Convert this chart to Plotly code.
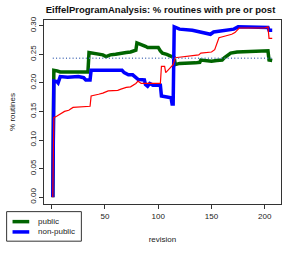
import plotly.graph_objects as go

title = "EiffelProgramAnalysis: % routines with pre or post"

public_rev = [1, 2, 5, 8, 20, 30, 34, 35, 40, 45, 48, 51, 55, 60, 66, 70, 74, 78, 79, 80, 85, 88, 90, 100, 102, 104, 108, 111, 113, 115, 116, 120, 135, 139, 140, 145, 150, 155, 160, 162, 165, 168, 174, 185, 200, 203, 204, 207]
public_val = [0.0, 0.222, 0.221, 0.219, 0.219, 0.218, 0.219, 0.253, 0.251, 0.250, 0.249, 0.246, 0.249, 0.250, 0.251, 0.253, 0.254, 0.256, 0.257, 0.270, 0.267, 0.264, 0.262, 0.262, 0.256, 0.252, 0.250, 0.248, 0.246, 0.244, 0.232, 0.234, 0.235, 0.236, 0.240, 0.239, 0.238, 0.239, 0.240, 0.244, 0.249, 0.252, 0.254, 0.255, 0.256, 0.256, 0.240, 0.239]

nonpublic_rev = [1, 2, 5, 6, 8, 15, 25, 30, 32, 36, 37, 50, 66, 68, 72, 76, 78, 81, 87, 88, 90, 92, 95, 102, 103, 110, 112, 113, 114, 115, 120, 132, 144, 149, 152, 163, 171, 175, 200, 203, 204, 207]
nonpublic_val = [0.0, 0.203, 0.202, 0.200, 0.211, 0.210, 0.211, 0.209, 0.205, 0.205, 0.222, 0.222, 0.222, 0.218, 0.214, 0.214, 0.210, 0.206, 0.205, 0.197, 0.194, 0.199, 0.196, 0.196, 0.177, 0.175, 0.174, 0.163, 0.163, 0.298, 0.294, 0.292, 0.288, 0.285, 0.289, 0.292, 0.294, 0.298, 0.298, 0.297, 0.292, 0.292]

all_rev = [1, 2, 5, 8, 12, 16, 19, 20, 36, 37, 44, 48, 53, 62, 65, 70, 74, 79, 81, 84, 102, 103, 106, 107, 109, 112, 114, 116, 125, 138, 140, 150, 153, 155, 157, 163, 169, 172, 174, 176, 200, 203, 204, 207]
all_val = [0.0, 0.139, 0.142, 0.145, 0.150, 0.152, 0.155, 0.157, 0.159, 0.177, 0.180, 0.182, 0.186, 0.187, 0.189, 0.192, 0.193, 0.199, 0.203, 0.199, 0.199, 0.229, 0.229, 0.218, 0.222, 0.229, 0.232, 0.244, 0.246, 0.249, 0.252, 0.254, 0.258, 0.268, 0.279, 0.282, 0.285, 0.288, 0.293, 0.296, 0.296, 0.298, 0.278, 0.278]

ref_rev = [1, 207]
ref_val = [0.243, 0.243]

x_ticks = [0, 50, 100, 150, 200]
x_labels = ["", "50", "100", "150", "200"]
y_ticks = [0.00, 0.05, 0.10, 0.15, 0.20, 0.25, 0.30]
y_labels = ["0.00", "0.05", "0.10", "0.15", "0.20", "0.25", "0.30"]

legend_names = ["public", "non-public"]
legend_colors = ["#006400", "#0000ff"]

fig = go.Figure()
fig.add_trace(go.Scatter(x=public_rev, y=public_val, mode="lines", name=legend_names[0],
                         showlegend=False, line=dict(color=legend_colors[0], width=3.5)))
fig.add_trace(go.Scatter(x=nonpublic_rev, y=nonpublic_val, mode="lines", name=legend_names[1],
                         showlegend=False, line=dict(color=legend_colors[1], width=3.5)))
fig.add_trace(go.Scatter(x=all_rev, y=all_val, mode="lines", showlegend=False,
                         line=dict(color="#ff0000", width=1.2)))
fig.add_trace(go.Scatter(x=ref_rev, y=ref_val, mode="lines", showlegend=False,
                         line=dict(color="#5577bb", width=1.5, dash="1px,2.3px")))

# manual R-style legend below-left of the plot (paper coordinates)
L, R_, T, B = 40, 281, 20, 213
W, H = R_ - L, B - T
px = lambda v: (v - L) / W
py = lambda v: (B - v) / H
fig.add_shape(type="rect", xref="paper", yref="paper",
              x0=px(2), x1=px(78), y0=py(252), y1=py(221),
              line=dict(color="#333", width=1), fillcolor="white")
for i, (name, col) in enumerate(zip(legend_names, legend_colors)):
    yy = 231.5 + i * 10.8
    fig.add_shape(type="line", xref="paper", yref="paper",
                  x0=px(8), x1=px(25), y0=py(yy), y1=py(yy),
                  line=dict(color=col, width=3.5))
    fig.add_annotation(xref="paper", yref="paper", x=px(32), y=py(yy), text=name,
                       showarrow=False, xanchor="left", yanchor="middle",
                       font=dict(size=8, color="#222"))

font = "Liberation Sans, Arial, sans-serif"
fig.update_layout(
    width=294, height=254,
    margin=dict(l=40, r=13, t=20, b=41),
    paper_bgcolor="white", plot_bgcolor="white",
    font=dict(family=font, size=8, color="#222"),
    title=dict(text="<b>" + title + "</b>", x=(40 + 281) / 2 / 294, xanchor="center",
               y=1 - 10 / 254, yanchor="middle", font=dict(size=9.5, color="#111")),
    showlegend=False,
)
fig.update_xaxes(range=[-7.24, 215.24], tickvals=x_ticks, ticktext=x_labels,
                 ticks="outside", ticklen=4, tickcolor="#333", showgrid=False, zeroline=False,
                 showline=True, linecolor="#333", linewidth=1, mirror=True,
                 title=dict(text="revision", font=dict(size=8), standoff=16))
fig.update_yaxes(range=[-0.012, 0.31], tickvals=y_ticks, ticktext=y_labels, tickangle=-90,
                 ticks="outside", ticklen=4, tickcolor="#333", showgrid=False, zeroline=False,
                 showline=True, linecolor="#333", linewidth=1, mirror=True,
                 title=dict(text="% routines", font=dict(size=8), standoff=11))

fig.write_html("out.html", config={"displayModeBar": False},
               post_script="document.body.style.margin='0';document.body.style.padding='0';")
